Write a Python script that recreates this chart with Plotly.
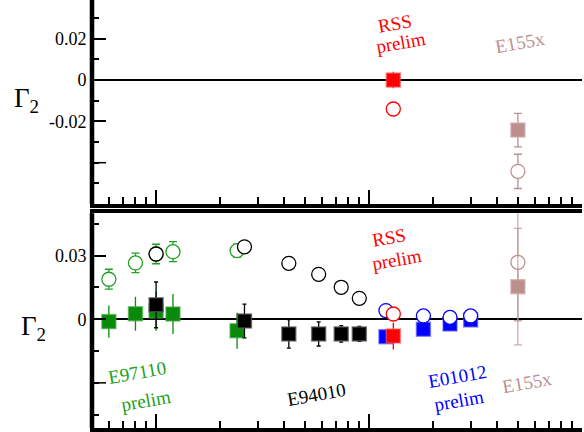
import numpy as np
import plotly.graph_objects as go

# ---------------- data (Q^2 in GeV^2, Gamma_2) ----------------
# bottom panel
q2_e97110 = [0.06, 0.08, 0.10, 0.12, 0.24]
g2_e97110_open = [0.0189, 0.0266, 0.0308, 0.0319, 0.0324]
g2_e97110_open_err = [0.0047, 0.0046, 0.0046, 0.0047, 0.0030]
g2_e97110_fill = [-0.0011, 0.0026, 0.0039, 0.0025, -0.0054]
g2_e97110_fill_err = [0.0076, 0.0080, 0.0093, 0.0094, 0.0085]

q2_e94010 = [0.10, 0.26, 0.42, 0.58, 0.74, 0.90]
g2_e94010_open = [0.0308, 0.0342, 0.0264, 0.0212, 0.0151, 0.0099]
g2_e94010_fill = [0.0068, -0.0008, -0.0069, -0.0069, -0.0069, -0.0069]
g2_e94010_fill_err = [0.0108, 0.0080, 0.0067, 0.0057, 0.0039, 0.0035]

q2_e01012 = [1.2, 1.8, 2.4, 3.0]
g2_e01012_open = [0.0041, 0.0016, 0.0009, 0.0016]
g2_e01012_fill = [-0.0082, -0.0047, -0.0022, -0.0003]
g2_e01012_fill_err = [0.0020, 0.0020, 0.0020, 0.0020]

q2_rss = [1.3]
g2_rss_open_bot = [0.0025]
g2_rss_fill_bot = [-0.0079]
g2_rss_fill_bot_err = [0.0063]

q2_e155x = [5.0]
g2_e155x_open_bot = [0.0269]
g2_e155x_open_bot_err = [0.0276]
g2_e155x_fill_bot = [0.0154]
g2_e155x_fill_bot_err = [0.0275]

# top panel
g2_rss_open_top = [-0.0140]
g2_rss_fill_top = [0.0000]
g2_rss_fill_top_err = [0.0040]
g2_e155x_open_top = [-0.0442]
g2_e155x_open_top_err = [0.0083]
g2_e155x_fill_top = [-0.0242]
g2_e155x_fill_top_err = [0.0081]

# axis ticks
bot_range = [-0.0513, 0.050]
top_range = [-0.060, 0.0388]
bot_labels = [0, 0.03]
bot_label_text = ["0", "0.03"]
top_labels = [-0.02, 0, 0.02]
top_label_text = ["-0.02", "0", "0.02"]
bot_unlabeled_major = [-0.03]
top_unlabeled_major = [-0.04]
bot_all_ticks = [-0.045, -0.03, -0.015, 0, 0.015, 0.03, 0.045]
top_all_ticks = [-0.05, -0.04, -0.03, -0.02, -0.01, 0, 0.01, 0.02, 0.03]
minor_x = [0.06, 0.07, 0.08, 0.09] + [k / 10 for k in range(2, 10)] + list(range(2, 10))

GREEN = "#0a8a0a"
GREEN_O = "#22a022"
BLUE = "#0000ff"
RED = "#ff0000"
ROSY = "#bc8f8f"
SERIF = "Liberation Serif"

fig = go.Figure()


def sq(x, y, err, color, edge, xa, ya, ecol=None, cap=0, size=14):
    fig.add_trace(go.Scatter(
        x=x, y=y, mode="markers", xaxis=xa, yaxis=ya,
        marker=dict(symbol="square", size=size, color=color,
                    line=dict(color=edge, width=1.5)),
        error_y=dict(type="data", array=err, color=ecol or color,
                     thickness=1.3, width=cap),
        hoverinfo="skip"))


def circ(x, y, err, color, xa, ya, ecol=None, cap=4, size=14):
    fig.add_trace(go.Scatter(
        x=x, y=y, mode="markers", xaxis=xa, yaxis=ya,
        marker=dict(symbol="circle", size=size, color="rgba(255,255,255,1)",
                    line=dict(color=color, width=1.3)),
        error_y=(dict(type="data", array=err, color=ecol or color,
                      thickness=1.3, width=cap) if err is not None else None),
        hoverinfo="skip"))


# bottom panel traces (xaxis x, yaxis y)
sq(q2_e97110, g2_e97110_fill, g2_e97110_fill_err, GREEN, "rgba(60,170,60,0.6)", "x", "y")
circ(q2_e97110, g2_e97110_open, g2_e97110_open_err, GREEN_O, "x", "y")
sq(q2_e94010, g2_e94010_fill, g2_e94010_fill_err, "black", "rgba(90,90,90,0.7)", "x", "y", cap=2)
circ(q2_e94010, g2_e94010_open, None, "black", "x", "y")
sq(q2_e01012, g2_e01012_fill, g2_e01012_fill_err, BLUE, "rgba(90,90,255,0.6)", "x", "y")
circ(q2_e01012, g2_e01012_open, None, BLUE, "x", "y")
sq(q2_rss, g2_rss_fill_bot, g2_rss_fill_bot_err, RED, "rgba(255,90,90,0.6)", "x", "y")
circ(q2_rss, g2_rss_open_bot, None, RED, "x", "y")
circ(q2_e155x, g2_e155x_open_bot, g2_e155x_open_bot_err, ROSY, "x", "y",
     ecol="rgba(188,143,143,0.75)", cap=4)
sq(q2_e155x, g2_e155x_fill_bot, g2_e155x_fill_bot_err, ROSY, "rgba(210,170,170,0.7)", "x", "y",
   ecol="rgba(188,143,143,0.75)", cap=4)

# top panel traces (xaxis x2, yaxis y2)
sq(q2_rss, g2_rss_fill_top, g2_rss_fill_top_err, RED, "rgba(255,90,90,0.6)", "x2", "y2", cap=0)
circ(q2_rss, g2_rss_open_top, None, RED, "x2", "y2")
sq(q2_e155x, g2_e155x_fill_top, g2_e155x_fill_top_err, ROSY, "rgba(210,170,170,0.7)", "x2", "y2", cap=4)
circ(q2_e155x, g2_e155x_open_top, g2_e155x_open_top_err, ROSY, "x2", "y2", cap=4)

tickfont = dict(family=SERIF, size=18, color="black")

xcommon = dict(type="log", range=[np.log10(0.05), 1.0], tickvals=[0.1, 1],
               showticklabels=False, ticks="inside", ticklen=14, tickwidth=1.5,
               tickcolor="black", showgrid=False, zeroline=False,
               showline=True, linewidth=4, linecolor="black",
               minor=dict(tickvals=minor_x, ticks="inside", ticklen=7,
                          tickwidth=1.5, tickcolor="black", showgrid=False))

ycommon = dict(showgrid=False, zeroline=True, zerolinecolor="black", zerolinewidth=2,
               showline=True, linewidth=2, linecolor="black", mirror=False,
               ticks="inside", ticklen=14, tickwidth=1.5, tickcolor="black",
               tickfont=tickfont)

rcommon = dict(side="right", showgrid=False, zeroline=False, showticklabels=False,
               showline=True, linewidth=2, linecolor="black",
               ticks="inside", ticklen=6, tickwidth=1.5, tickcolor="black")

fig.update_layout(
    width=584, height=432,
    margin=dict(l=92, r=2, t=0, b=4),
    plot_bgcolor="white", paper_bgcolor="white",
    showlegend=False,
    xaxis=dict(anchor="y", domain=[0, 1], mirror=True, **xcommon),
    xaxis2=dict(anchor="y2", domain=[0, 1], mirror=False, **xcommon),
    yaxis=dict(anchor="x", domain=[0, 0.5016], range=bot_range,
               tickvals=bot_labels, ticktext=bot_label_text,
               minor=dict(tick0=0, dtick=0.015, ticks="inside", ticklen=7,
                          tickwidth=1.5, tickcolor="black", showgrid=False),
               **ycommon),
    yaxis2=dict(anchor="x2", domain=[0.5234, 1], range=top_range,
                tickvals=top_labels, ticktext=top_label_text,
                minor=dict(tick0=0, dtick=0.01, ticks="inside", ticklen=7,
                           tickwidth=1.5, tickcolor="black", showgrid=False),
                **ycommon),
    yaxis3=dict(overlaying="y", anchor="x", range=bot_range,
                tickvals=bot_all_ticks, **rcommon),
    yaxis4=dict(overlaying="y2", anchor="x2", range=top_range,
                tickvals=top_all_ticks, **rcommon),
)

# thick left borders
for ya, xa in (("y", "x"), ("y2", "x2")):
    fig.add_shape(type="line", xref=f"{xa} domain", yref=f"{ya} domain",
                  x0=0, x1=0, y0=0, y1=1, line=dict(color="black", width=4.5))

# long unlabeled major ticks on the left axes
for vals, xa, ya in ((bot_unlabeled_major, "x", "y"), (top_unlabeled_major, "x2", "y2")):
    for v in vals:
        fig.add_shape(type="line", xref=f"{xa} domain", yref=ya,
                      x0=0, x1=14 / 490, y0=v, y1=v,
                      line=dict(color="black", width=1.5))


def label(text, x, y, color, xa, ya, size=19):
    fig.add_annotation(text=text, x=x, y=y, xref=xa, yref=ya, showarrow=False,
                       textangle=-10, font=dict(family=SERIF, size=size, color=color),
                       xanchor="center", yanchor="middle")


# annotation x positions given as log10(Q^2) for log axes
label("RSS", 0.1221, 0.0272, RED, "x2", "y2")
label("prelim", 0.1502, 0.0180, RED, "x2", "y2")
label("E155x", 0.709, 0.0180, ROSY, "x2", "y2")
label("RSS", 0.0939, 0.0388, RED, "x", "y")
label("prelim", 0.1315, 0.0280, RED, "x", "y")
label("E97110", -1.0892, -0.0253, GREEN_O, "x", "y")
label("prelim", -1.0469, -0.0381, GREEN_O, "x", "y")
label("E94010", -0.249, -0.0357, "black", "x", "y")
label("E01012", 0.4131, -0.0272, BLUE, "x", "y")
label("prelim", 0.4225, -0.0381, BLUE, "x", "y")
label("E155x", 0.742, -0.0296, ROSY, "x", "y")

# axis titles (pixel centres converted to paper coordinates)
for px, py in ((26, 100), (33, 328)):
    fig.add_annotation(text="Γ<sub>2</sub>", xref="paper", yref="paper",
                       x=(px - 92) / 490, y=(428 - py) / 428, showarrow=False,
                       xanchor="center", yanchor="middle",
                       font=dict(family=SERIF, size=27, color="black"))

fig.write_html("out.html")
